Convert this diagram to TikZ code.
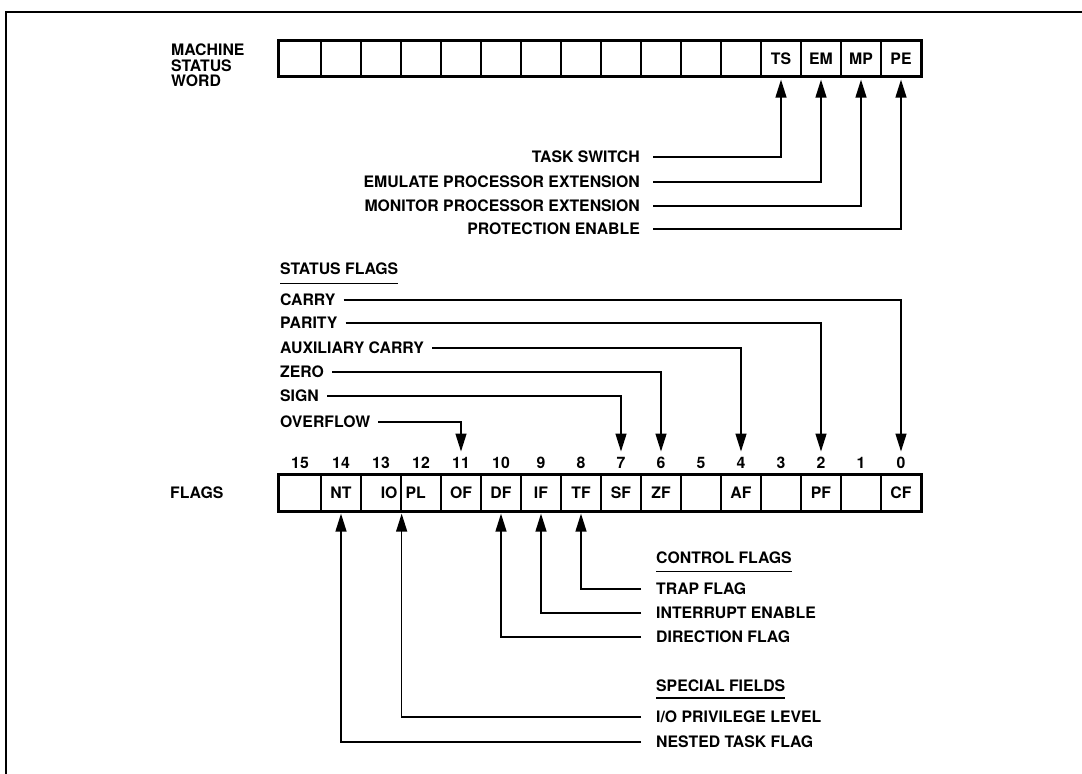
\documentclass[tikz,border=0pt]{standalone}
\usepackage{fontspec}
\setmainfont{TeX Gyre Heros}
\usetikzlibrary{arrows.meta}
\begin{document}
\begin{tikzpicture}[x=1pt,y=-1pt,
  font=\fontsize{15.8}{18}\selectfont\bfseries,
  lbl/.style={inner sep=0pt, text height=11.3pt, text depth=0pt},
  cell/.style={draw, line width=1.3pt, minimum width=40pt, inner sep=0pt, text height=11.3pt, text depth=0pt},
  msw/.style={cell, minimum height=35pt},
  flg/.style={cell, minimum height=36pt},
  outer/.style={draw, line width=2.2pt},
  conn/.style={line width=1.4pt},
  arr/.style={conn, -{Triangle[length=18pt,width=11pt]}},
]
\useasboundingbox (0,0) rectangle (1082,774);
% frame
\draw[line width=2.2pt] (6,774) -- (6,12) -- (1082,12);

% machine status word register
\node[msw, minimum width=42pt] (m15) at (300,58.5) {};
\foreach \i/\t in {14/,13/,12/,11/,10/,9/,8/,7/,6/,5/,4/,3/TS,2/EM,1/MP,0/PE}{
  \node[msw] (m\i) at ({341+(14-\i)*40},58.5) {\t};
}
\draw[outer] (m15.north west) rectangle (m0.south east);

\node[lbl, anchor=west] (mswa) at (171,50) {MACHINE};
\node[lbl, anchor=west] (mswb) at (171,65.5) {STATUS};
\node[lbl, anchor=west] (mswc) at (171,81) {WORD};

\node[lbl, anchor=east] (ts) at (640,157) {TASK SWITCH};
\node[lbl, anchor=east] (em) at (640,182) {EMULATE PROCESSOR EXTENSION};
\node[lbl, anchor=east] (mp) at (640,206) {MONITOR PROCESSOR EXTENSION};
\node[lbl, anchor=east] (pe) at (640,229) {PROTECTION ENABLE};
\draw[arr, shorten >=3pt] ([xshift=13pt]ts.east) -| (m3.south);
\draw[arr, shorten >=3pt] ([xshift=13pt]em.east) -| (m2.south);
\draw[arr, shorten >=3pt] ([xshift=13pt]mp.east) -| (m1.south);
\draw[arr, shorten >=3pt] ([xshift=13pt]pe.east) -| (m0.south);

% flags register
\node[flg, minimum width=42pt] (f15) at (300,493) {};
\foreach \i/\t in {14/NT,13/,12/,11/OF,10/DF,9/IF,8/TF,7/SF,6/ZF,5/,4/AF,3/,2/PF,1/,0/CF}{
  \node[flg] (f\i) at ({341+(14-\i)*40},493) {\t};
}
\draw[outer] (f15.north west) rectangle (f0.south east);
\node[lbl, anchor=east] (io) at ([xshift=-4pt]f13.east) {IO};
\node[lbl, anchor=west] (pl) at ([xshift=5pt]f12.west) {PL};
\foreach \i in {0,...,15}{
  \node[lbl] (n\i) at ([yshift=12pt]f\i.north) {\i};
}
\node[lbl, anchor=west] (flags) at (170,493) {FLAGS};

% status flags
\node[lbl, anchor=west] (sfh) at (280,269) {STATUS FLAGS};
\draw[conn] ([yshift=-8.5pt]sfh.south west) -- ([yshift=-8.5pt]sfh.south east);
\node[lbl, anchor=west] (carry) at (280,300) {CARRY};
\node[lbl, anchor=west] (parity) at (280,323) {PARITY};
\node[lbl, anchor=west] (aux) at (280,348) {AUXILIARY CARRY};
\node[lbl, anchor=west] (zero) at (280,372) {ZERO};
\node[lbl, anchor=west] (sign) at (280,396) {SIGN};
\node[lbl, anchor=west] (ovf) at (280,422) {OVERFLOW};
\draw[arr, shorten >=5pt] ([xshift=8pt]carry.east) -| (n0.north);
\draw[arr, shorten >=5pt] ([xshift=8pt]parity.east) -| (n2.north);
\draw[arr, shorten >=5pt] ([xshift=8pt]aux.east) -| (n4.north);
\draw[arr, shorten >=5pt] ([xshift=8pt]zero.east) -| (n6.north);
\draw[arr, shorten >=5pt] ([xshift=8pt]sign.east) -| (n7.north);
\draw[arr, shorten >=5pt] ([xshift=8pt]ovf.east) -| (n11.north);

% control flags
\node[lbl, anchor=west] (cfh) at (656,558) {CONTROL FLAGS};
\draw[conn] ([yshift=-7.5pt]cfh.south west) -- ([yshift=-7.5pt]cfh.south east);
\node[lbl, anchor=west] (tf) at (656,589) {TRAP FLAG};
\node[lbl, anchor=west] (ie) at (656,613) {INTERRUPT ENABLE};
\node[lbl, anchor=west] (df) at (656,637) {DIRECTION FLAG};
\draw[arr, shorten >=2pt] ([xshift=-15pt]tf.west) -| (f8.south);
\draw[arr, shorten >=2pt] ([xshift=-15pt]ie.west) -| (f9.south);
\draw[arr, shorten >=2pt] ([xshift=-15pt]df.west) -| (f10.south);

% special fields
\node[lbl, anchor=west] (sph) at (656,686) {SPECIAL FIELDS};
\draw[conn] ([yshift=-6pt]sph.south west) -- ([yshift=-6pt]sph.south east);
\node[lbl, anchor=west] (iopl) at (656,717) {I/O PRIVILEGE LEVEL};
\node[lbl, anchor=west] (nt) at (656,742) {NESTED TASK FLAG};
\draw[arr, shorten >=2pt] ([xshift=-15pt]iopl.west) -| (f13.south east);
\draw[arr, shorten >=2pt] ([xshift=-15pt]nt.west) -| (f14.south);
\end{tikzpicture}
\end{document}
